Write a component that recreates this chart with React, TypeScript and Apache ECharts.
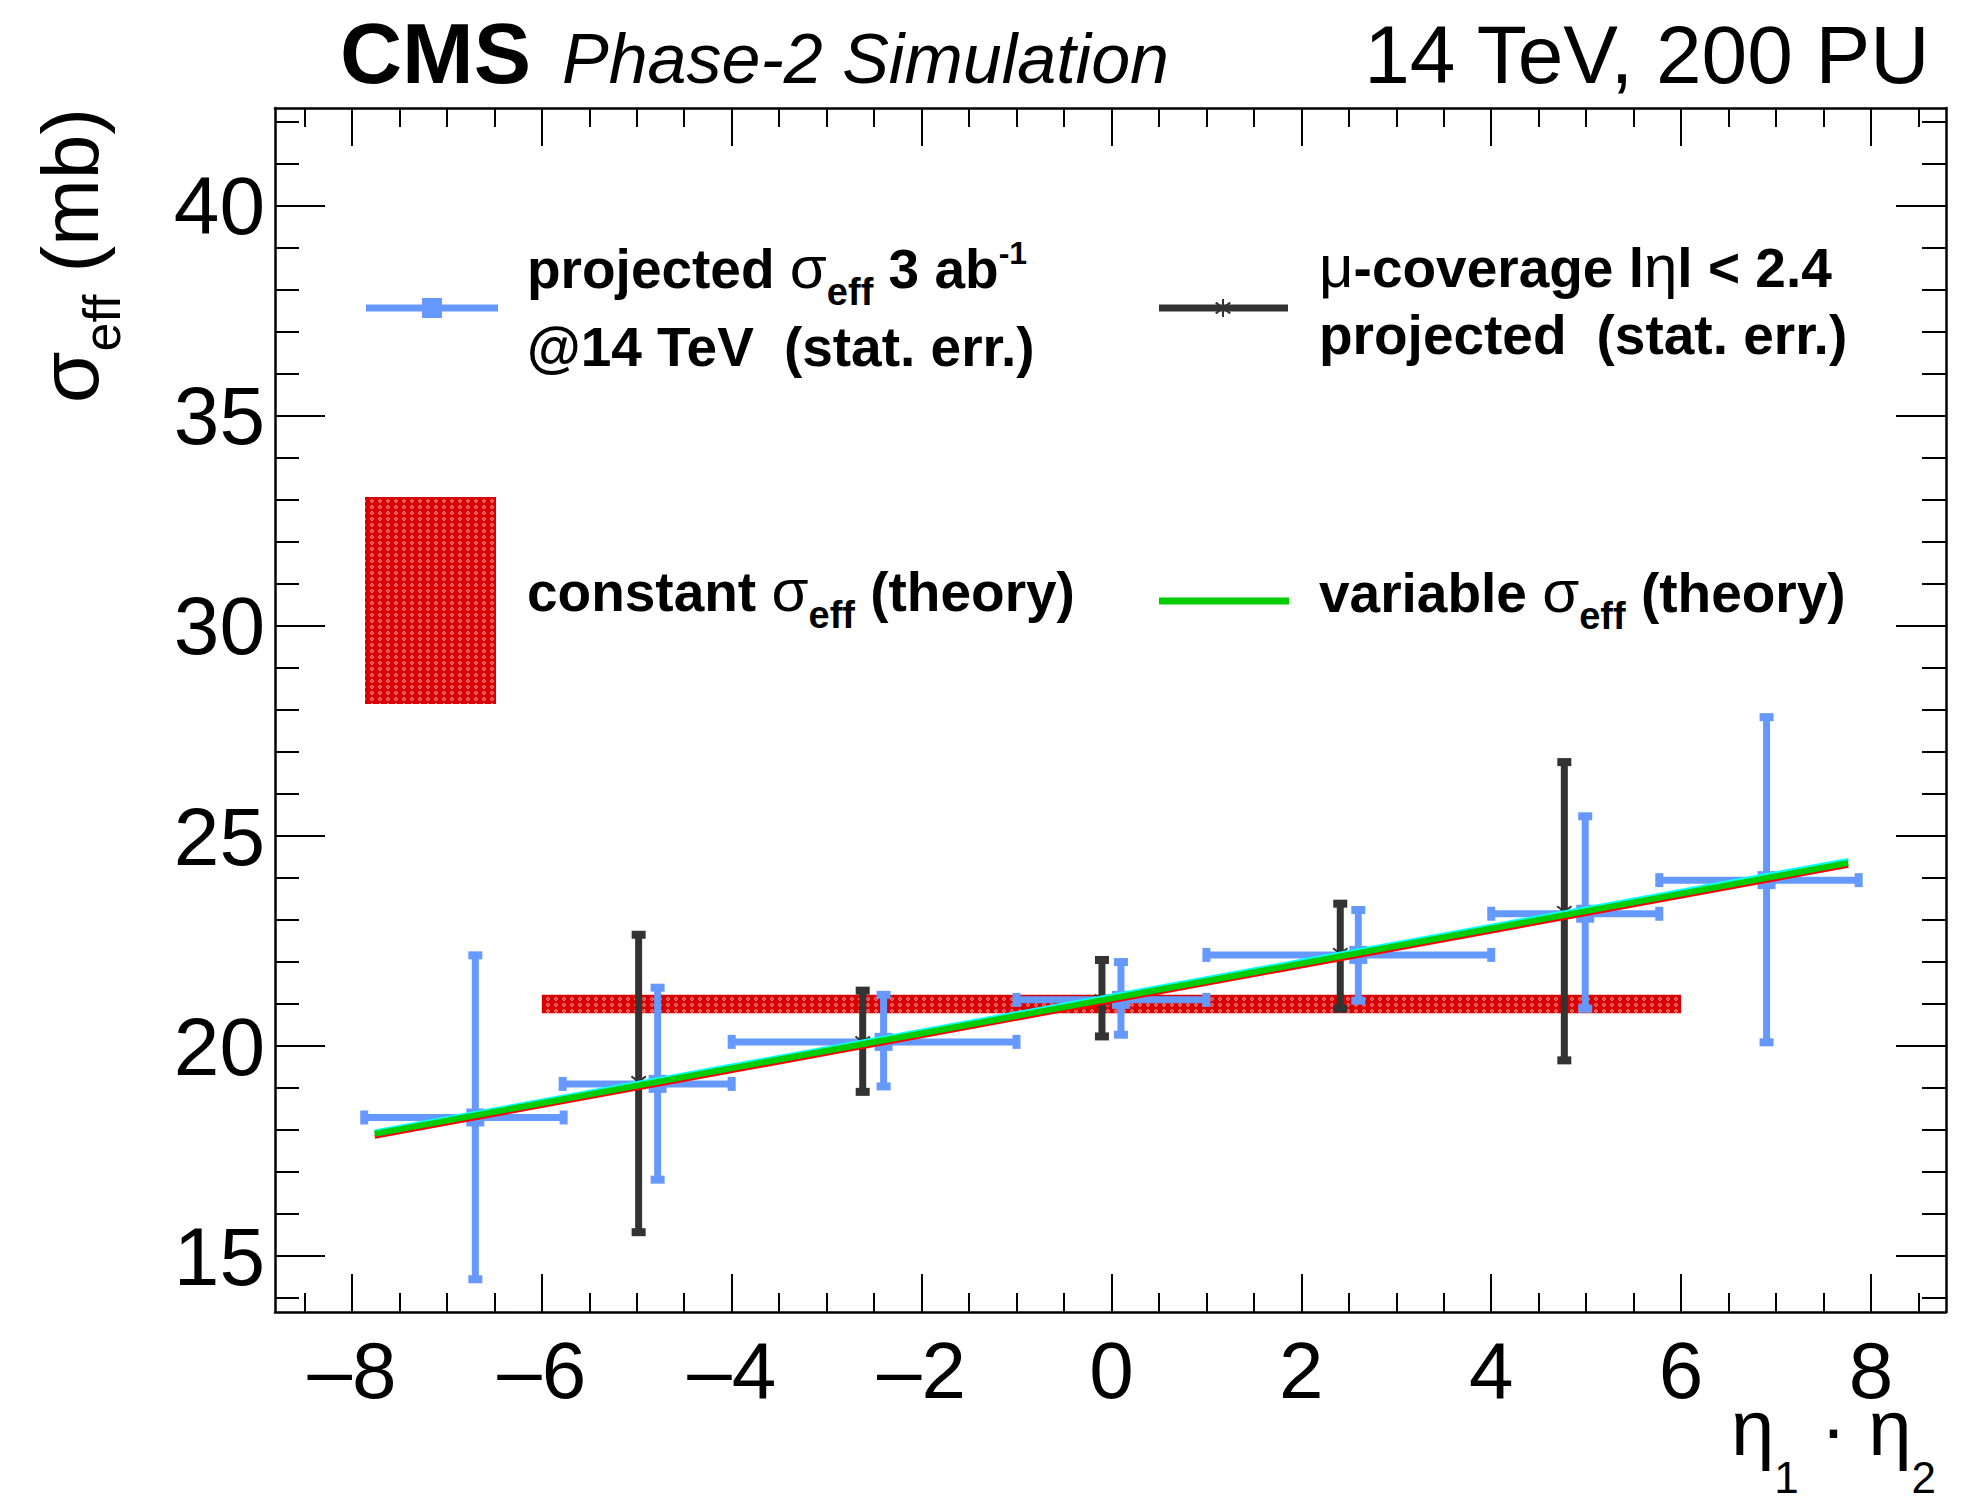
import React, { useEffect, useRef } from 'react';
import * as echarts from 'echarts';

const FONT = "'Liberation Sans', Arial, Helvetica, sans-serif";
const W = 1961;
const H = 1504;

// ---------- axes ----------
const xRange = [-8.81, 8.79];
const yRange = [13.67, 42.33];
const xMajorTicks = [-8, -6, -4, -2, 0, 2, 4, 6, 8];
const xMinorTicks = [-8.5, -7.5, -7, -6.5, -5.5, -5, -4.5, -3.5, -3, -2.5, -1.5, -1, -0.5, 0.5, 1, 1.5, 2.5, 3, 3.5, 4.5, 5, 5.5, 6.5, 7, 7.5, 8.5];
const yMajorTicks = [15, 20, 25, 30, 35, 40];
const yMinorTicks = [14, 16, 17, 18, 19, 21, 22, 23, 24, 26, 27, 28, 29, 31, 32, 33, 34, 36, 37, 38, 39, 41, 42];

// ---------- data: projected sigma_eff, 3 ab-1 @ 14 TeV (blue) ----------
const projX = [-6.7, -4.78, -2.4, 0.1, 2.6, 4.99, 6.9];
const projY = [18.3, 19.1, 20.1, 21.1, 22.17, 23.15, 23.95];
const projXLo = [-7.87, -5.78, -4.0, -1.0, 1.0, 4.0, 5.77];
const projXHi = [-5.77, -4.0, -1.0, 1.0, 4.0, 5.77, 7.87];
const projYLo = [14.45, 16.82, 19.04, 20.27, 21.08, 20.89, 20.09];
const projYHi = [22.16, 21.39, 21.22, 22.0, 23.24, 25.47, 27.83];

// ---------- data: mu-coverage |eta| < 2.4 projected (dark) ----------
const muX = [-4.98, -2.62, -0.1, 2.41, 4.77];
const muY = [19.15, 20.1, 21.1, 22.2, 23.2];
const muYLo = [15.57, 18.91, 20.23, 20.89, 19.66];
const muYHi = [22.65, 21.32, 22.05, 23.39, 26.76];

// ---------- theory ----------
const theoryX = [-7.76, 7.76];
const variableY = [17.91, 24.36];
const variableUpperY = [17.97, 24.43];
const variableLowerY = [17.84, 24.29];
const constBandX = [-6.0, 6.0];
const constBandY = [20.78, 21.22];

const BLUE = '#6699ff';
const DARK = '#333333';
const GREEN = '#00cc00';
const CYAN = '#00ffff';
const REDLINE = '#ff0000';

const patternSvg =
  "<svg xmlns='http://www.w3.org/2000/svg' width='8' height='6'>" +
  "<rect width='8' height='6' fill='#d80000'/>" +
  "<circle cx='4' cy='3' r='1.4' fill='none' stroke='#ffd0d0' stroke-width='0.7'/>" +
  "</svg>";
const hatch: any = {
  image: 'data:image/svg+xml;charset=utf-8,' + encodeURIComponent(patternSvg),
  repeat: 'repeat',
  imageWidth: 8,
  imageHeight: 6,
};

type Piece = { t: string; size: number; weight?: string; italic?: boolean; dy?: number; gap?: number };

function layout(ctx: CanvasRenderingContext2D, pieces: Piece[]) {
  let x = 0;
  const items = pieces.map((p) => {
    x += p.gap || 0;
    ctx.font = `${p.italic ? 'italic ' : ''}${p.weight || 'normal'} ${p.size}px ${FONT}`;
    const w = ctx.measureText(p.t).width;
    const it = { p, x };
    x += w;
    return it;
  });
  return { items, total: x };
}

function textEl(p: Piece, x: number, y: number) {
  return {
    type: 'text',
    x,
    y,
    style: {
      text: p.t,
      fontSize: p.size,
      fontWeight: p.weight || 'normal',
      fontStyle: p.italic ? 'italic' : 'normal',
      fontFamily: FONT,
      fill: '#000',
      align: 'left',
      verticalAlign: 'middle',
    },
  };
}

function textEls(ctx: CanvasRenderingContext2D, pieces: Piece[], x0: number, baseline: number, align: 'left' | 'right' = 'left') {
  const { items, total } = layout(ctx, pieces);
  const start = align === 'right' ? x0 - total : x0;
  return items.map(({ p, x }) => textEl(p, start + x, baseline + (p.dy || 0) - 0.35 * p.size));
}

const B = 'bold';
const LS = 55;

function sigmaEff(): Piece[] {
  return [
    { t: 'σ', size: 60 },
    { t: 'eff', size: 38, weight: B, dy: 17 },
  ];
}

function buildGraphic(ctx: CanvasRenderingContext2D) {
  const els: any[] = [];
  // header
  els.push(...textEls(ctx, [{ t: 'CMS', size: 86, weight: B }], 340, 83));
  els.push(...textEls(ctx, [{ t: 'Phase-2 Simulation', size: 70, italic: true }], 562, 83));
  els.push(...textEls(ctx, [{ t: '14 TeV, 200 PU', size: 82 }], 1931, 83, 'right'));

  // y title (rotated)
  const yPieces: Piece[] = [
    { t: 'σ', size: 84 },
    { t: 'eff', size: 52, dy: 22 },
    { t: ' (mb)', size: 80 },
  ];
  const yl = layout(ctx, yPieces);
  els.push({
    type: 'group',
    x: 98,
    y: 108 + yl.total,
    rotation: Math.PI / 2,
    children: yl.items.map(({ p, x }) => textEl(p, x, (p.dy || 0) - 0.35 * p.size)),
  });

  // x title
  els.push(
    ...textEls(
      ctx,
      [
        { t: 'η', size: 78 },
        { t: '1', size: 44, dy: 38 },
        { t: ' · ', size: 78 },
        { t: 'η', size: 78 },
        { t: '2', size: 44, dy: 38 },
      ],
      1936,
      1455,
      'right'
    )
  );

  // legend entry 1 (blue)
  els.push({ type: 'line', shape: { x1: 366, y1: 308, x2: 498, y2: 308 }, style: { stroke: BLUE, lineWidth: 7 } });
  els.push({ type: 'rect', shape: { x: 422, y: 298, width: 20, height: 20 }, style: { fill: BLUE } });
  els.push(
    ...textEls(
      ctx,
      [
        { t: 'projected ', size: LS, weight: B },
        ...sigmaEff(),
        { t: ' 3 ab', size: LS, weight: B },
        { t: '-1', size: 32, weight: B, dy: -24 },
      ],
      527,
      288
    )
  );
  els.push(
    ...textEls(
      ctx,
      [
        { t: '@14 TeV', size: LS, weight: B },
        { t: '(stat. err.)', size: LS, weight: B, gap: 30 },
      ],
      527,
      366
    )
  );

  // legend entry 2 (dark)
  els.push({ type: 'line', shape: { x1: 1159, y1: 308, x2: 1288, y2: 308 }, style: { stroke: DARK, lineWidth: 7 } });
  const sx = 1223, sy = 308, sr = 9;
  els.push({ type: 'line', shape: { x1: sx, y1: sy - sr, x2: sx, y2: sy + sr }, style: { stroke: DARK, lineWidth: 2 } });
  els.push({ type: 'line', shape: { x1: sx - sr * 0.8, y1: sy - sr * 0.6, x2: sx + sr * 0.8, y2: sy + sr * 0.6 }, style: { stroke: DARK, lineWidth: 2 } });
  els.push({ type: 'line', shape: { x1: sx - sr * 0.8, y1: sy + sr * 0.6, x2: sx + sr * 0.8, y2: sy - sr * 0.6 }, style: { stroke: DARK, lineWidth: 2 } });
  els.push(
    ...textEls(
      ctx,
      [
        { t: 'μ', size: 60 },
        { t: '-coverage ', size: LS, weight: B },
        { t: 'l', size: LS, weight: B },
        { t: 'η', size: 60 },
        { t: 'l', size: LS, weight: B },
        { t: ' < 2.4', size: LS, weight: B },
      ],
      1319,
      287
    )
  );
  els.push(
    ...textEls(
      ctx,
      [
        { t: 'projected', size: LS, weight: B },
        { t: '(stat. err.)', size: LS, weight: B, gap: 30 },
      ],
      1319,
      354
    )
  );

  // legend entry 3 (constant band)
  els.push({ type: 'rect', shape: { x: 365, y: 497, width: 131, height: 207 }, style: { fill: hatch } });
  els.push(
    ...textEls(
      ctx,
      [{ t: 'constant ', size: LS, weight: B }, ...sigmaEff(), { t: ' (theory)', size: LS, weight: B }],
      527,
      611
    )
  );

  // legend entry 4 (variable line)
  els.push({ type: 'line', shape: { x1: 1159, y1: 601, x2: 1289, y2: 601 }, style: { stroke: GREEN, lineWidth: 7 } });
  els.push(
    ...textEls(
      ctx,
      [{ t: 'variable ', size: LS, weight: B }, ...sigmaEff(), { t: ' (theory)', size: LS, weight: B }],
      1319,
      612
    )
  );
  return els;
}

function fmtX(v: number) {
  return v < 0 ? '\u2013' + Math.abs(v) : String(v);
}

function axisX(pos: 'top' | 'bottom', ticks: number[], len: number, line: boolean, labels: boolean, gridIndex: number) {
  return {
    type: 'value',
    gridIndex,
    position: pos,
    min: xRange[0],
    max: xRange[1],
    splitLine: { show: false },
    axisLine: { show: line, onZero: false, lineStyle: { color: '#000', width: 2.5 } },
    axisTick: { show: true, inside: true, length: len, customValues: ticks, lineStyle: { color: '#000', width: 2 } },
    axisLabel: labels
      ? { show: true, customValues: ticks, formatter: fmtX, fontSize: 80, fontFamily: FONT, color: '#000', margin: 18 }
      : { show: false },
  };
}

function axisY(pos: 'left' | 'right', ticks: number[], len: number, line: boolean, labels: boolean, gridIndex: number) {
  return {
    type: 'value',
    gridIndex,
    position: pos,
    min: yRange[0],
    max: yRange[1],
    splitLine: { show: false },
    axisLine: { show: line, onZero: false, lineStyle: { color: '#000', width: 2.5 } },
    axisTick: { show: true, inside: true, length: len, customValues: ticks, lineStyle: { color: '#000', width: 2 } },
    axisLabel: labels
      ? { show: true, customValues: ticks, fontSize: 82, fontFamily: FONT, color: '#000', margin: 10 }
      : { show: false },
  };
}

export default function App() {
  const ref = useRef<HTMLDivElement>(null);
  useEffect(() => {
    document.body.style.margin = '0';
    if (!ref.current) return;
    const chart = echarts.init(ref.current, null, { renderer: 'svg', width: W, height: H });
    const ctx = document.createElement('canvas').getContext('2d') as CanvasRenderingContext2D;

    const gridBox = { left: 275, top: 108, right: 15, bottom: 192, containLabel: false, outerBoundsMode: 'none' };

    const projData = projX.map((x, i) => [x, projY[i], projXLo[i], projXHi[i], projYLo[i], projYHi[i]]);
    const muData = muX.map((x, i) => [x, muY[i], muYLo[i], muYHi[i]]);
    const bandData = [[constBandX[0], constBandX[1], constBandY[0], constBandY[1]]];

    const option: any = {
      animation: false,
      backgroundColor: '#ffffff',
      grid: [gridBox, { ...gridBox }],
      xAxis: [
        axisX('bottom', xMajorTicks, 38, true, true, 0),
        axisX('top', xMajorTicks, 38, true, false, 0),
        axisX('bottom', xMinorTicks, 19, false, false, 1),
        axisX('top', xMinorTicks, 19, false, false, 1),
      ],
      yAxis: [
        axisY('left', yMajorTicks, 50, true, true, 0),
        axisY('right', yMajorTicks, 50, true, false, 0),
        axisY('left', yMinorTicks, 24, false, false, 1),
        axisY('right', yMinorTicks, 24, false, false, 1),
      ],
      series: [
        {
          type: 'custom',
          name: 'constant band',
          xAxisIndex: 0,
          yAxisIndex: 0,
          data: bandData,
          renderItem: (params: any, api: any) => {
            const p0 = api.coord([api.value(0), api.value(3)]);
            const p1 = api.coord([api.value(1), api.value(2)]);
            return {
              type: 'rect',
              shape: { x: p0[0], y: p0[1], width: p1[0] - p0[0], height: p1[1] - p0[1] },
              style: { fill: hatch },
            };
          },
        },
        {
          type: 'custom',
          name: 'projected',
          xAxisIndex: 0,
          yAxisIndex: 0,
          data: projData,
          renderItem: (params: any, api: any) => {
            const x = api.value(0), y = api.value(1);
            const c = api.coord([x, y]);
            const xl = api.coord([api.value(2), y])[0];
            const xh = api.coord([api.value(3), y])[0];
            const yl = api.coord([x, api.value(4)])[1];
            const yh = api.coord([x, api.value(5)])[1];
            const st = { stroke: BLUE, lineWidth: 7 };
            return {
              type: 'group',
              children: [
                { type: 'line', shape: { x1: xl, y1: c[1], x2: xh, y2: c[1] }, style: st },
                { type: 'line', shape: { x1: c[0], y1: yl, x2: c[0], y2: yh }, style: st },
                { type: 'rect', shape: { x: xl - 4, y: c[1] - 7, width: 8, height: 14 }, style: { fill: BLUE } },
                { type: 'rect', shape: { x: xh - 4, y: c[1] - 7, width: 8, height: 14 }, style: { fill: BLUE } },
                { type: 'rect', shape: { x: c[0] - 7, y: yl - 4, width: 14, height: 8 }, style: { fill: BLUE } },
                { type: 'rect', shape: { x: c[0] - 7, y: yh - 4, width: 14, height: 8 }, style: { fill: BLUE } },
                { type: 'rect', shape: { x: c[0] - 9, y: c[1] - 9, width: 18, height: 18 }, style: { fill: BLUE } },
              ],
            };
          },
        },
        {
          type: 'custom',
          name: 'mu-coverage',
          xAxisIndex: 0,
          yAxisIndex: 0,
          data: muData,
          renderItem: (params: any, api: any) => {
            const x = api.value(0), y = api.value(1);
            const c = api.coord([x, y]);
            const yl = api.coord([x, api.value(2)])[1];
            const yh = api.coord([x, api.value(3)])[1];
            const r = 9;
            const st = { stroke: DARK, lineWidth: 2 };
            return {
              type: 'group',
              children: [
                { type: 'line', shape: { x1: c[0], y1: yl, x2: c[0], y2: yh }, style: { stroke: DARK, lineWidth: 7 } },
                { type: 'rect', shape: { x: c[0] - 7, y: yl - 4, width: 14, height: 8 }, style: { fill: DARK } },
                { type: 'rect', shape: { x: c[0] - 7, y: yh - 4, width: 14, height: 8 }, style: { fill: DARK } },
                { type: 'line', shape: { x1: c[0] - r * 0.8, y1: c[1] - r * 0.6, x2: c[0] + r * 0.8, y2: c[1] + r * 0.6 }, style: st },
                { type: 'line', shape: { x1: c[0] - r * 0.8, y1: c[1] + r * 0.6, x2: c[0] + r * 0.8, y2: c[1] - r * 0.6 }, style: st },
              ],
            };
          },
        },
        {
          type: 'line',
          name: 'variable upper',
          xAxisIndex: 0,
          yAxisIndex: 0,
          symbol: 'none',
          data: theoryX.map((x, i) => [x, variableUpperY[i]]),
          lineStyle: { color: CYAN, width: 4 },
          z: 5,
        },
        {
          type: 'line',
          name: 'variable lower',
          xAxisIndex: 0,
          yAxisIndex: 0,
          symbol: 'none',
          data: theoryX.map((x, i) => [x, variableLowerY[i]]),
          lineStyle: { color: REDLINE, width: 4 },
          z: 5,
        },
        {
          type: 'line',
          name: 'variable sigma_eff',
          xAxisIndex: 0,
          yAxisIndex: 0,
          symbol: 'none',
          data: theoryX.map((x, i) => [x, variableY[i]]),
          lineStyle: { color: GREEN, width: 6 },
          z: 6,
        },
      ],
      graphic: buildGraphic(ctx),
    };
    chart.setOption(option);
    return () => chart.dispose();
  }, []);
  return <div ref={ref} style={{ width: W, height: H }} />;
}
